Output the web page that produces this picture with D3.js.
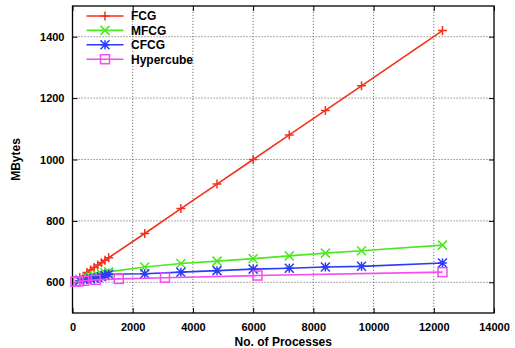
<!DOCTYPE html>
<html>
<head>
<meta charset="utf-8">
<script src="https://cdn.jsdelivr.net/npm/d3@7"></script>
<style>
  body { margin: 0; background: #fff; }
  text { font-family: "Liberation Sans", Arial, sans-serif; font-weight: bold; }
</style>
</head>
<body>
<svg id="chart" width="515" height="348"></svg>
<script>
// process counts
const procsMesh = [240, 480, 600, 720, 840, 960, 1080, 1200, 2400, 3600, 4800, 6000, 7200, 8400, 9600, 12288]
const procsCube = [96, 192, 384, 768, 1536, 3072, 6144, 12288]

// memory usage (MBytes)
const fcg = [616, 632, 640, 648, 656, 664, 672, 680, 759, 840, 920, 1000, 1080, 1160, 1240, 1420]
const mfcg = [610, 615, 618, 621, 624, 627, 631, 634, 650, 661, 669, 677, 686, 695, 703, 721]
const cfcg = [605, 609, 611, 613, 615, 618, 622, 626, 628, 633, 638, 643, 646, 650, 652, 663]
const hypercube = [602, 603, 605, 608, 611, 615, 622, 633]

const xTicks = [0, 2000, 4000, 6000, 8000, 10000, 12000, 14000]
const yTicks = [600, 800, 1000, 1200, 1400]

const series = [
  { name: 'FCG', xs: procsMesh, ys: fcg, color: '#f4301c', marker: 'plus' },
  { name: 'MFCG', xs: procsMesh, ys: mfcg, color: '#4be81e', marker: 'cross' },
  { name: 'CFCG', xs: procsMesh, ys: cfcg, color: '#2b3cf5', marker: 'star' },
  { name: 'Hypercube', xs: procsCube, ys: hypercube, color: '#f54cf0', marker: 'square' }
]

const margin = { top: 6, right: 21, bottom: 35, left: 72.5 }
const width = 515, height = 348

const svg = d3.select('#chart')

const x = d3.scaleLinear().domain([0, 14000]).range([margin.left, width - margin.right])
const y = d3.scaleLinear().domain([500, 1500]).range([height - margin.bottom, margin.top])

// grid
const grid = svg.append('g')
  .attr('stroke', '#666')
  .attr('stroke-width', 0.9)
  .attr('stroke-dasharray', '1.2,1.8')
grid.selectAll('.gx').data(xTicks.slice(1, -1)).enter().append('line')
  .attr('x1', d => x(d)).attr('x2', d => x(d))
  .attr('y1', y(500)).attr('y2', y(1500))
grid.selectAll('.gy').data(yTicks).enter().append('line')
  .attr('x1', x(0)).attr('x2', x(14000))
  .attr('y1', d => y(d)).attr('y2', d => y(d))

// axes (gnuplot style: inward ticks on all sides)
const tick = 5
const fmt = d3.format('d')
svg.append('g')
  .attr('transform', `translate(0,${y(500)})`)
  .call(d3.axisBottom(x).tickValues(xTicks).tickFormat(fmt).tickSize(-tick).tickPadding(10).tickSizeOuter(0))
svg.append('g')
  .attr('transform', `translate(0,${y(1500)})`)
  .call(d3.axisTop(x).tickValues(xTicks).tickSize(-tick).tickFormat('').tickSizeOuter(0))
svg.append('g')
  .attr('transform', `translate(${x(0)},0)`)
  .call(d3.axisLeft(y).tickValues(yTicks).tickFormat(fmt).tickSize(-tick).tickPadding(8).tickSizeOuter(0))
svg.append('g')
  .attr('transform', `translate(${x(14000)},0)`)
  .call(d3.axisRight(y).tickValues(yTicks).tickSize(-tick).tickFormat('').tickSizeOuter(0))

svg.selectAll('.tick text')
  .attr('font-size', 11)
  .attr('font-family', '"Liberation Sans", Arial, sans-serif')
  .attr('font-weight', 'bold')
  .attr('fill', '#000')
svg.selectAll('.domain').attr('stroke', 'none')
svg.selectAll('.tick line').attr('stroke', '#000')

svg.append('rect')
  .attr('x', x(0)).attr('y', y(1500))
  .attr('width', x(14000) - x(0)).attr('height', y(500) - y(1500))
  .attr('fill', 'none').attr('stroke', '#000').attr('stroke-width', 1.3)

// axis titles
svg.append('text')
  .attr('x', (x(0) + x(14000)) / 2).attr('y', 345.5)
  .attr('text-anchor', 'middle').attr('font-size', 12)
  .text('No. of Processes')
svg.append('text')
  .attr('transform', `translate(19.5,${y(1000)}) rotate(-90)`)
  .attr('text-anchor', 'middle').attr('font-size', 12)
  .text('MBytes')

function drawMarker(g, type, cx, cy, color) {
  const s = 4.5
  if (type === 'plus') {
    g.append('path').attr('d', `M${cx - s},${cy}H${cx + s}M${cx},${cy - s}V${cy + s}`)
      .attr('stroke', color).attr('stroke-width', 1.5).attr('fill', 'none')
  } else if (type === 'cross') {
    g.append('path').attr('d', `M${cx - s},${cy - s}L${cx + s},${cy + s}M${cx - s},${cy + s}L${cx + s},${cy - s}`)
      .attr('stroke', color).attr('stroke-width', 1.5).attr('fill', 'none')
  } else if (type === 'star') {
    g.append('path').attr('d', `M${cx - s},${cy}H${cx + s}M${cx},${cy - s}V${cy + s}M${cx - s},${cy - s}L${cx + s},${cy + s}M${cx - s},${cy + s}L${cx + s},${cy - s}`)
      .attr('stroke', color).attr('stroke-width', 1.5).attr('fill', 'none')
  } else {
    g.append('rect').attr('x', cx - s).attr('y', cy - s).attr('width', 2 * s).attr('height', 2 * s)
      .attr('stroke', color).attr('stroke-width', 1.5).attr('fill', 'none')
  }
}

const line = d3.line().x(d => x(d[0])).y(d => y(d[1]))

// series
series.forEach(s => {
  const pts = s.xs.map((v, i) => [v, s.ys[i]])
  const g = svg.append('g')
  g.append('path').datum(pts).attr('d', line)
    .attr('fill', 'none').attr('stroke', s.color).attr('stroke-width', 1.6)
  pts.forEach(p => drawMarker(g, s.marker, x(p[0]), y(p[1]), s.color))
})

// legend
const legend = svg.append('g')
series.forEach((s, i) => {
  const ly = 16 + i * 14.4
  legend.append('line').attr('x1', 86.5).attr('x2', 123.5).attr('y1', ly).attr('y2', ly)
    .attr('stroke', s.color).attr('stroke-width', 1.6)
  drawMarker(legend, s.marker, 105, ly, s.color)
  legend.append('text').attr('x', 131).attr('y', ly + 4.3).attr('font-size', 12).text(s.name)
})
</script>
</body>
</html>
